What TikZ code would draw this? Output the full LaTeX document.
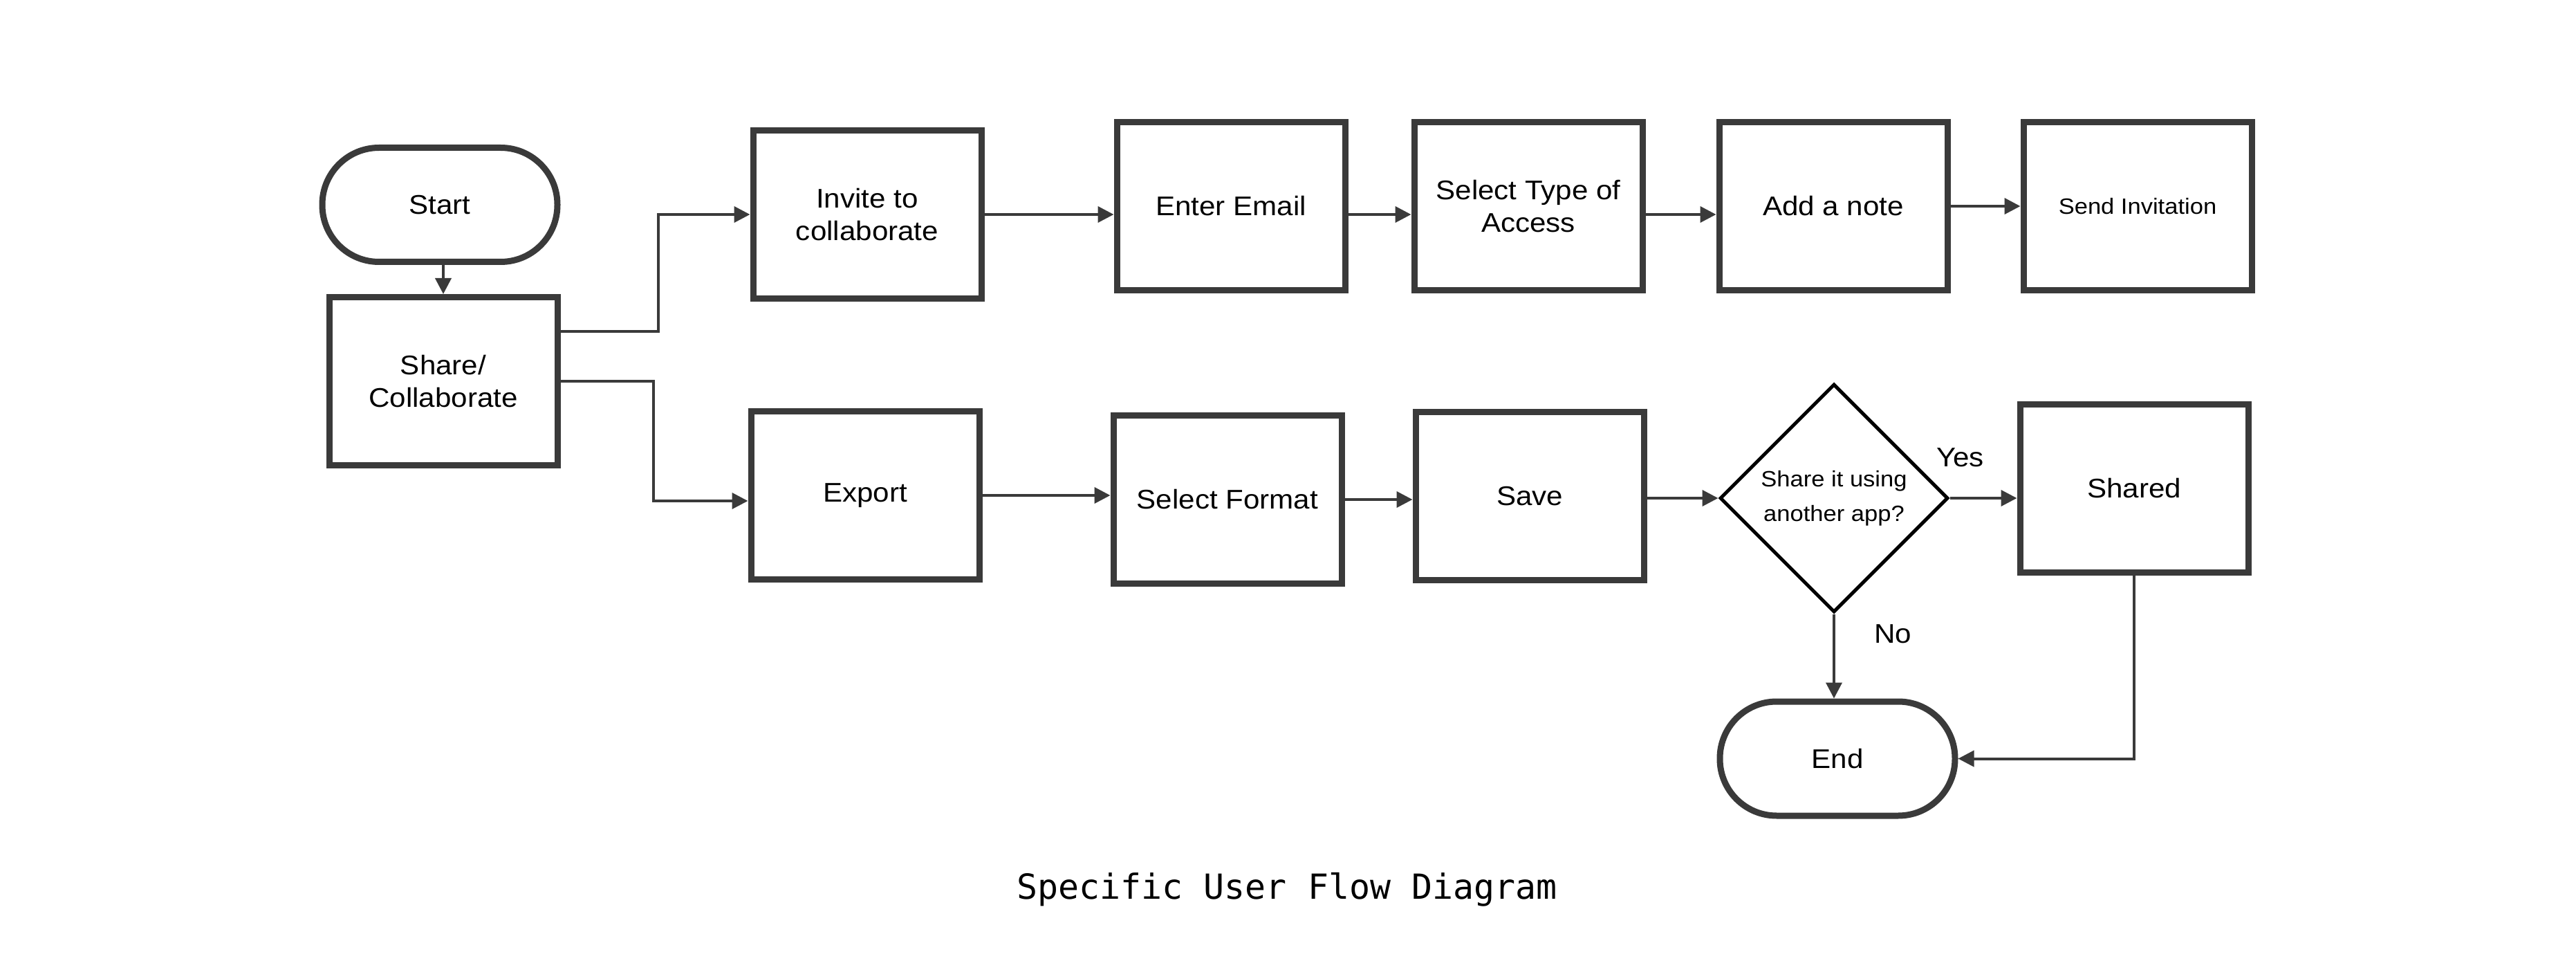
\documentclass[tikz,border=0pt]{standalone}
\usepackage{fontspec}
\setmainfont{Liberation Sans}[FakeStretch=1.08]
\newfontfamily\titlefont{DejaVu Sans Mono}
\usepackage{tikz}
\usetikzlibrary{shapes,arrows.meta,positioning,calc}
\definecolor{linegray}{HTML}{3A3A3A}

\begin{document}
\begin{tikzpicture}[
    box/.style={draw=linegray, line width=0.09cm, minimum width=3.30cm, minimum height=2.43cm, align=center, font=\fontsize{11.1}{13.5}\selectfont},
    terminal/.style={box, rounded corners=0.82cm, minimum width=3.40cm, minimum height=1.65cm},
    decision/.style={diamond, draw=black, line width=0.05cm, minimum width=3.3cm, minimum height=3.3cm, aspect=1, inner sep=0pt, align=center, font=\fontsize{9.1}{14.2}\selectfont},
    arrow/.style={-{Triangle[length=0.23cm,width=0.23cm]}, line width=0.04cm, draw=linegray},
    tag/.style={font=\fontsize{11.1}{13.5}\selectfont}
]

% Canvas
\path[fill=white, use as bounding box] (0,0) rectangle (37.25,-14.15);

% Start
\node[terminal] (start) at (6.36,-2.96) {Start};
\node[box] (share) at (6.41,-5.51) {Share/\\Collaborate};

% Invite branch
\node[box] (invite) at (12.54,-3.10) {Invite to\\collaborate};
\node[box, right=1.87cm of invite, yshift=0.12cm] (email) {Enter Email};
\node[box, right=0.91cm of email] (access) {Select Type of\\Access};
\node[box, right=1.02cm of access] (note) {Add a note};
\node[box, right=1.01cm of note, font=\fontsize{9.1}{11}\selectfont] (send) {Send Invitation};

% Export branch
\node[box] (export) at (12.51,-7.16) {Export};
\node[box, right=1.85cm of export, yshift=-0.06cm] (format) {Select Format};
\node[box, right=0.98cm of format, yshift=0.05cm] (save) {Save};
\node[decision, right=1.03cm of save, yshift=-0.03cm] (decide) {Share it using\\another app?};
\node[box, right=0.97cm of decide, yshift=0.14cm] (shared) {Shared};
\node[terminal, below=1.22cm of decide, xshift=0.05cm] (finish) {End};

% Labels
\node[tag] (yes) at ([xshift=0.15cm,yshift=0.59cm]decide.east) {Yes};
\node[tag] (no) at ([xshift=0.85cm,yshift=-0.29cm]decide.south) {No};

% Title
\node[font=\titlefont\fontsize{14.2}{17}\selectfont] (title) at (18.61,-12.86) {Specific User Flow Diagram};

% Arrows
\draw[arrow] (share.north |- start.south) -- (share.north);
\draw[arrow] ([yshift=0.72cm]share.east) -- ++(1.41,0) |- (invite.west);
\draw[arrow] (share.east) -- ++(1.34,0) |- ([yshift=-0.08cm]export.west);
\draw[arrow] (invite.east) -- (invite.east -| email.west);
\draw[arrow] (email.east |- invite.east) -- (access.west |- invite.east);
\draw[arrow] (access.east |- invite.east) -- (note.west |- invite.east);
\draw[arrow] (note.east) -- (send.west);
\draw[arrow] (export.east) -- (export.east -| format.west);
\draw[arrow] (format.east) -- (format.east -| save.west);
\draw[arrow] (save.east |- decide.west) -- (decide.west);
\draw[arrow] (decide.east) -- (decide.east -| shared.west);
\draw[arrow] (decide.south) -- (decide.south |- finish.north);
\draw[arrow] (shared.south) |- (finish.east);

\end{tikzpicture}
\end{document}
